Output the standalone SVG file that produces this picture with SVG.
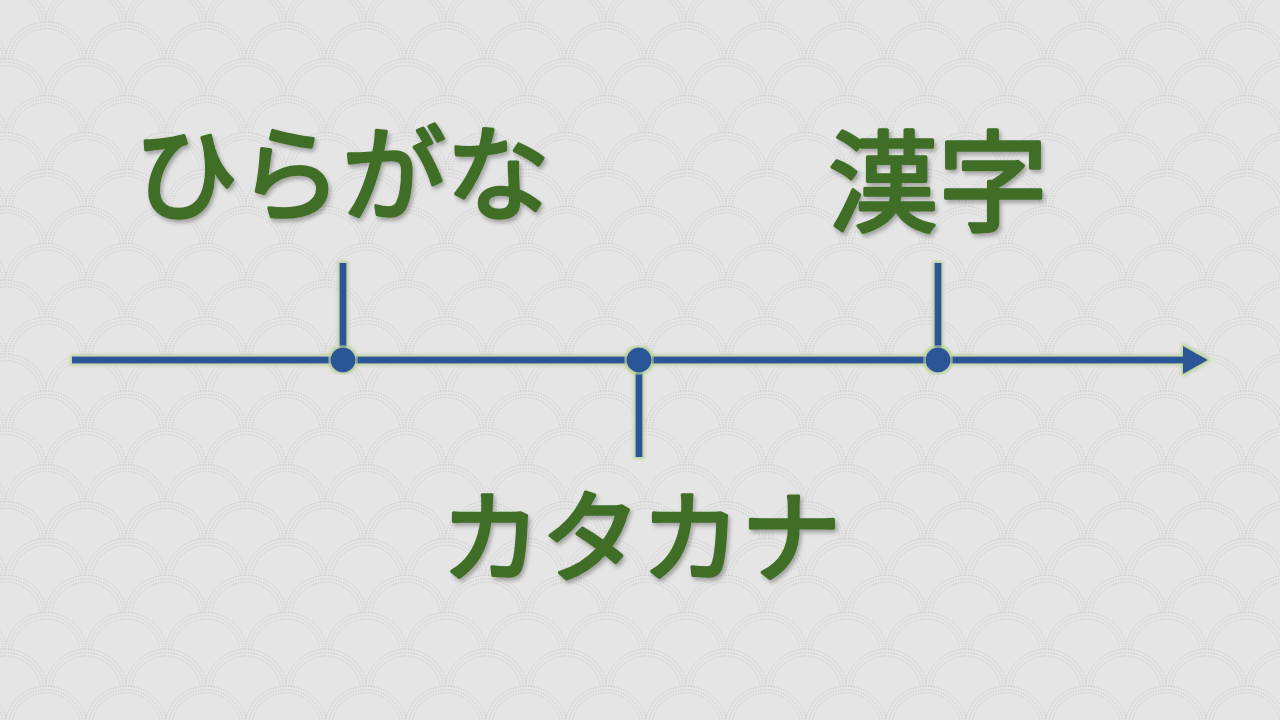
<svg xmlns="http://www.w3.org/2000/svg" xmlns:xlink="http://www.w3.org/1999/xlink" width="1280" height="720" viewBox="0 0 1280 720">
<style>
.d{fill:none;stroke:#cbcbcb;stroke-width:1;stroke-dasharray:1.3 1.3}
.ln{stroke:#2b5797;stroke-width:7;fill:none}
.lbl{font-family:"Noto Sans CJK JP","Noto Sans CJK SC",sans-serif;font-weight:400;fill:#3f6e27;stroke:#3f6e27;stroke-width:3.5;stroke-linejoin:round;stroke-linecap:round;text-anchor:middle}
</style>
<defs>
<g id="s"><circle r="41" fill="#e5e5e5"/><circle r="41" class="d"/><circle r="37.7" class="d"/><circle r="34.4" class="d"/></g>
<g id="rowA">
<use xlink:href="#s" x="-34"/><use xlink:href="#s" x="46"/><use xlink:href="#s" x="126"/><use xlink:href="#s" x="206"/><use xlink:href="#s" x="286"/><use xlink:href="#s" x="366"/><use xlink:href="#s" x="446"/><use xlink:href="#s" x="526"/><use xlink:href="#s" x="606"/><use xlink:href="#s" x="686"/><use xlink:href="#s" x="766"/><use xlink:href="#s" x="846"/><use xlink:href="#s" x="926"/><use xlink:href="#s" x="1006"/><use xlink:href="#s" x="1086"/><use xlink:href="#s" x="1166"/><use xlink:href="#s" x="1246"/><use xlink:href="#s" x="1326"/>
</g>
<filter id="glow" x="-10%" y="-10%" width="120%" height="120%">
<feMorphology in="SourceAlpha" operator="dilate" radius="1.5" result="m"/>
<feGaussianBlur in="m" stdDeviation="1.5" result="b"/>
<feFlood flood-color="#b9d19a" flood-opacity="0.9"/>
<feComposite in2="b" operator="in" result="g"/>
<feMerge><feMergeNode in="g"/><feMergeNode in="SourceGraphic"/></feMerge>
</filter>
<filter id="sh" x="-10%" y="-10%" width="120%" height="130%">
<feGaussianBlur in="SourceAlpha" stdDeviation="2"/>
<feOffset dx="2" dy="3" result="o"/>
<feFlood flood-color="#000" flood-opacity="0.3"/>
<feComposite in2="o" operator="in" result="s"/>
<feMerge><feMergeNode in="s"/><feMergeNode in="SourceGraphic"/></feMerge>
</filter>
</defs>
<rect width="1280" height="720" fill="#e5e5e5"/>
<g id="background">
<use xlink:href="#rowA" y="-10.8"/>
<use xlink:href="#rowA" x="-40" y="26.1"/>
<use xlink:href="#rowA" y="63"/>
<use xlink:href="#rowA" x="-40" y="99.9"/>
<use xlink:href="#rowA" y="136.8"/>
<use xlink:href="#rowA" x="-40" y="173.7"/>
<use xlink:href="#rowA" y="210.6"/>
<use xlink:href="#rowA" x="-40" y="247.5"/>
<use xlink:href="#rowA" y="284.4"/>
<use xlink:href="#rowA" x="-40" y="321.3"/>
<use xlink:href="#rowA" y="358.2"/>
<use xlink:href="#rowA" x="-40" y="395.1"/>
<use xlink:href="#rowA" y="432"/>
<use xlink:href="#rowA" x="-40" y="468.9"/>
<use xlink:href="#rowA" y="505.8"/>
<use xlink:href="#rowA" x="-40" y="542.7"/>
<use xlink:href="#rowA" y="579.6"/>
<use xlink:href="#rowA" x="-40" y="616.5"/>
<use xlink:href="#rowA" y="653.4"/>
<use xlink:href="#rowA" x="-40" y="690.3"/>
<use xlink:href="#rowA" y="727.2"/>
</g>
<g id="connectors" filter="url(#glow)">
<path class="ln" d="M72 360H1186"/>
<polygon points="1183,346 1208,360 1183,374" fill="#2b5797"/>
<path class="ln" d="M343 263V360"/>
<path class="ln" d="M639 360V457"/>
<path class="ln" d="M938 263V360"/>
</g>
<g id="dot-hiragana" filter="url(#glow)"><circle cx="343" cy="360" r="12.5" fill="#2b5797"/></g>
<g id="dot-katakana" filter="url(#glow)"><circle cx="639" cy="360" r="12.5" fill="#2b5797"/></g>
<g id="dot-kanji" filter="url(#glow)"><circle cx="938" cy="360" r="12.5" fill="#2b5797"/></g>
<g id="hiragana" filter="url(#sh)"><text class="lbl" x="342" y="213" font-size="104">ひらがな</text></g>
<g id="kanji" filter="url(#sh)"><text class="lbl" x="938" y="223" font-size="110">漢字</text></g>
<g id="katakana" filter="url(#sh)"><text class="lbl" x="641" y="574" font-size="100">カタカナ</text></g>
</svg>
